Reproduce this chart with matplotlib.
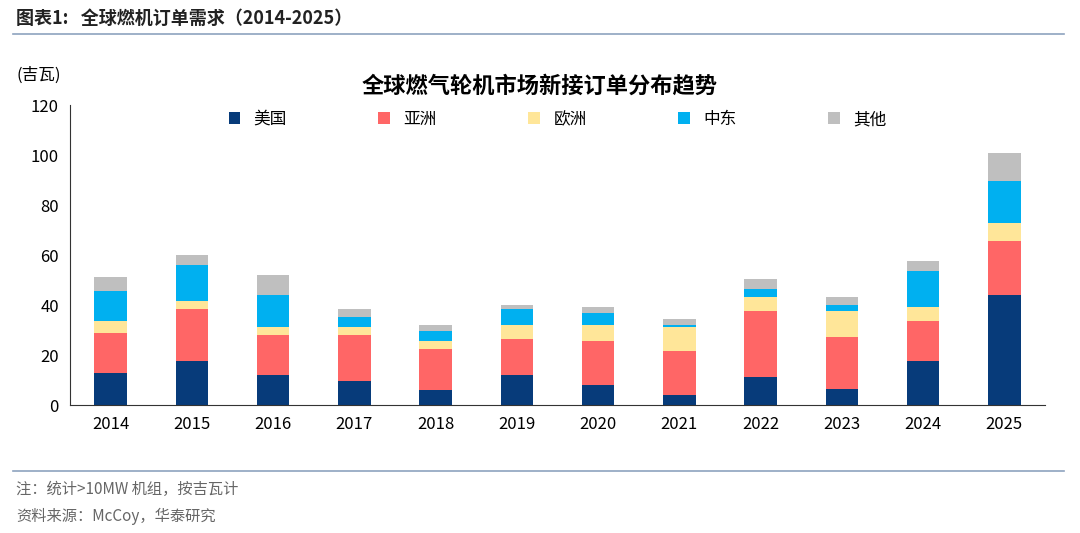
import matplotlib.pyplot as plt
import numpy as np

plt.rcParams['font.family'] = ['Noto Sans CJK SC', 'DejaVu Sans']

years = ['2014', '2015', '2016', '2017', '2018', '2019', '2020', '2021', '2022', '2023', '2024', '2025']
usa = [12.8, 17.6, 12.0, 9.6, 6.0, 12.0, 8.0, 4.0, 11.2, 6.4, 17.6, 44.0]
asia = [16.0, 20.8, 16.0, 18.4, 16.4, 14.4, 17.6, 17.6, 26.4, 20.8, 16.0, 21.6]
europe = [4.8, 3.2, 3.2, 3.2, 3.2, 5.6, 6.4, 9.6, 5.6, 10.4, 5.6, 7.2]
mideast = [12.0, 14.4, 12.8, 4.0, 4.0, 6.4, 4.8, 0.8, 3.2, 2.4, 14.4, 16.8]
other = [5.6, 4.0, 8.0, 3.2, 2.4, 1.6, 2.4, 2.4, 4.0, 3.2, 4.0, 11.2]

series = [('美国', usa, '#073B7A'), ('亚洲', asia, '#FF6666'), ('欧洲', europe, '#FFE699'),
          ('中东', mideast, '#00B0F0'), ('其他', other, '#BFBFBF')]

fig = plt.figure(figsize=(10.8, 5.33), dpi=100)
ax = fig.add_axes([70 / 1080, 1 - 405 / 533, 975 / 1080, 300 / 533])

x = np.arange(len(years))
bottom = np.zeros(len(years))
for name, vals, color in series:
    ax.bar(x, vals, 0.4, bottom=bottom, color=color, label=name)
    bottom += np.array(vals)

ax.set_xlim(-0.5, len(years) - 0.5)
ax.set_ylim(0, 120)
ax.set_yticks(range(0, 121, 20))
ax.set_xticks(x)
ax.set_xticklabels(years)
ax.tick_params(labelsize=12, length=0, pad=8)
for s in ['top', 'right']:
    ax.spines[s].set_visible(False)
ax.spines['left'].set_color('#333333')
ax.spines['bottom'].set_color('#333333')
ax.legend(loc='upper center', bbox_to_anchor=(0.50, 1.03), ncol=5, frameon=False,
          fontsize=12, handlelength=0.7, handleheight=0.7, columnspacing=5.5)

fig.text(0.015, 1 - 18 / 533, '图表1:   全球燃机订单需求（2014-2025）', fontsize=13,
         fontweight='bold', va='center', color='#222222')
fig.add_artist(plt.Line2D([0.012, 0.985], [1 - 34 / 533] * 2, color='#8EA3BF', lw=1.2))
fig.text(0.015, 1 - 75 / 533, '(吉瓦)', fontsize=12, va='center')
fig.text(0.5, 1 - 86 / 533, '全球燃气轮机市场新接订单分布趋势', fontsize=16,
         fontweight='bold', ha='center', va='center')
fig.add_artist(plt.Line2D([0.012, 0.985], [1 - 471 / 533] * 2, color='#8EA3BF', lw=1.2))
fig.text(0.015, 1 - 489 / 533, '注：统计>10MW 机组，按吉瓦计', fontsize=11, va='center', color='#666666')
fig.text(0.015, 1 - 516 / 533, '资料来源：McCoy，华泰研究', fontsize=11, va='center', color='#666666')

fig.savefig('out.png', dpi=100)
